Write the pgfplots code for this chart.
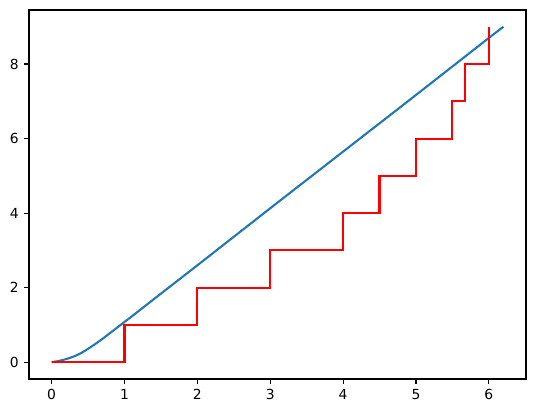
\documentclass[border=0pt]{standalone}
\usepackage{pgfplots}
\pgfplotsset{compat=1.18}
\usepackage{fontspec}
\setmainfont{DejaVu Sans}

\definecolor{mplblue}{RGB}{31,119,180}

\begin{document}
\begin{tikzpicture}
% 1 px of the reference = 0.75pt
\useasboundingbox (-21.75pt,-25.5pt) rectangle (378.75pt,284.25pt);
\begin{axis}[
  at={(0,0)}, anchor=south west,
  scale only axis,
  width=372.75pt, height=276.75pt,
  xmin=-0.31, xmax=6.51,
  ymin=-0.45, ymax=9.45,
  xtick={0,1,2,3,4,5,6},
  ytick={0,2,4,6,8},
  tick align=outside,
  tick pos=left,
  major tick length=3.65pt,
  axis line style={line width=0.83pt},
  every tick/.style={black, line width=0.83pt},
  tick label style={font=\fontsize{10.4}{12}\selectfont},
  xticklabel style={yshift=-0.5pt},
  yticklabel style={xshift=-0.5pt},
  /pgf/number format/assume math mode=true,
  clip=false,
]
\addplot [line width=1.56pt, mplblue, line join=round, smooth, tension=0.4]
table {%
0 0
0.1 0.035
0.2 0.085
0.3 0.15
0.4 0.24
0.5 0.36
0.6 0.49
0.7 0.63
0.8 0.78
0.9 0.93
1.0 1.08
1.1 1.23
1.5 1.84
2.0 2.60
3.0 4.13
4.0 5.65
5.0 7.17
6.0 8.70
6.2 9.0
};
\addplot [line width=1.56pt, red, line join=miter]
table {%
0 0
1 0
1 1
2 1
2 2
3 2
3 3
4 3
4 4
4.5 4
4.5 5
5 5
5 6
5.5 6
5.5 7
5.67 7
5.67 8
6 8
6 9
};
\end{axis}
\end{tikzpicture}
\end{document}
